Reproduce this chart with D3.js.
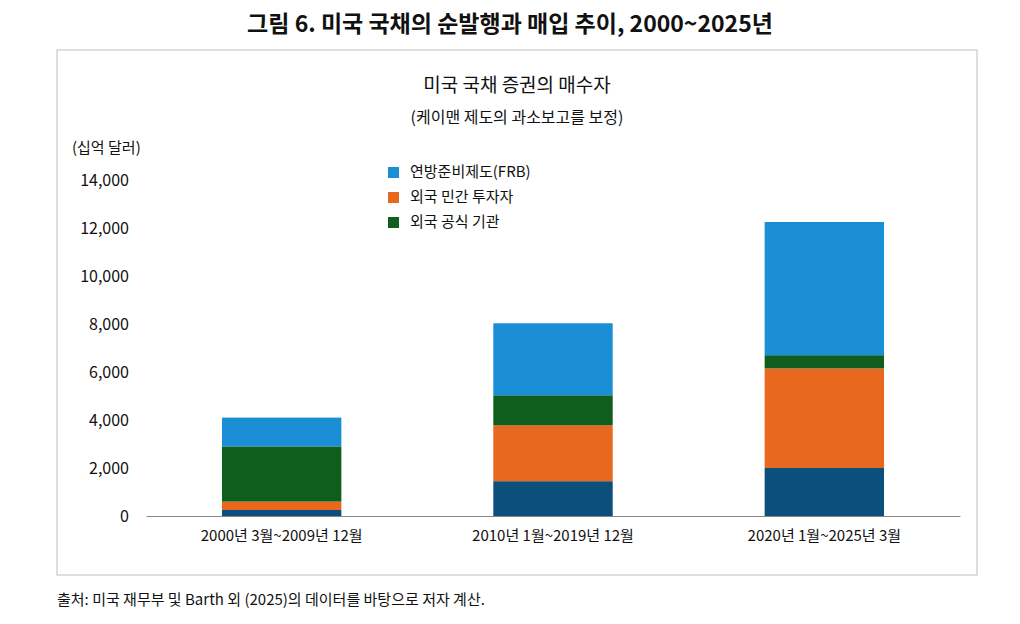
<!DOCTYPE html><html><head><meta charset="utf-8">
<script src="https://cdn.jsdelivr.net/npm/d3@7"></script>
<style>body{margin:0;background:#fff;font-family:"Noto Sans CJK KR","Noto Sans",sans-serif}</style></head><body>
<svg id="c" width="1020" height="624"></svg>
<script>
const categories=["2000년 3월~2009년 12월","2010년 1월~2019년 12월","2020년 1월~2025년 3월"];
const seriesNames=["기타","외국 민간 투자자","외국 공식 기관","연방준비제도(FRB)"];
const seriesColors=["#0b4f7c","#e8681f","#0f5e1e","#1a8fd6"];
const other=[250,1450,2000];
const privateForeign=[350,2330,4150];
const officialForeign=[2300,1250,550];
const frb=[1200,3000,5550];
const yTicks=[0,2000,4000,6000,8000,10000,12000,14000];
const legendOrder=[3,1,2];

const svg=d3.select("#c");
const font='"Noto Sans CJK KR","Noto Sans",sans-serif';
svg.append("text").attr("x",510).attr("y",32).attr("text-anchor","middle").attr("font-size",23).attr("font-weight","bold").attr("fill","#111").text("그림 6. 미국 국채의 순발행과 매입 추이, 2000~2025년");
svg.append("rect").attr("x",57).attr("y",50).attr("width",920).attr("height",525).attr("fill","none").attr("stroke","#bdbdbd");
svg.append("text").attr("x",517).attr("y",92).attr("text-anchor","middle").attr("font-size",19).attr("fill","#111").text("미국 국채 증권의 매수자");
svg.append("text").attr("x",517).attr("y",123).attr("text-anchor","middle").attr("font-size",16).attr("fill","#111").text("(케이맨 제도의 과소보고를 보정)");
svg.append("text").attr("x",72).attr("y",153).attr("font-size",15).attr("fill","#111").text("(십억 달러)");

const y=d3.scaleLinear().domain([0,14000]).range([516,180]);
const x=d3.scaleBand().domain(categories).range([146,1010-50]).paddingInner(0.56).paddingOuter(0.28);
const data=categories.map((c,i)=>({cat:c,s0:other[i],s1:privateForeign[i],s2:officialForeign[i],s3:frb[i]}));
const stack=d3.stack().keys(["s0","s1","s2","s3"])(data);
stack.forEach((layer,k)=>{
  svg.append("g").selectAll("rect").data(layer).join("rect")
   .attr("x",d=>x(d.data.cat)).attr("width",x.bandwidth())
   .attr("y",d=>y(d[1])).attr("height",d=>y(d[0])-y(d[1])).attr("fill",seriesColors[k]);
});
const ya=svg.append("g").attr("transform","translate(132,0)").call(d3.axisLeft(y).tickValues(yTicks).tickSize(0).tickFormat(d3.format(",")));
ya.select(".domain").remove();
ya.selectAll("text").attr("font-size",16).attr("font-family",font).attr("fill","#111");
const xa=svg.append("g").attr("transform","translate(0,516)").call(d3.axisBottom(x).tickSize(0).tickPadding(14));
xa.select(".domain").attr("stroke","#888");
xa.selectAll("text").attr("font-size",15).attr("font-family",font).attr("fill","#111");
legendOrder.forEach((k,i)=>{
  const g=svg.append("g").attr("transform",`translate(388,${167+i*25})`);
  g.append("rect").attr("width",11).attr("height",11).attr("fill",seriesColors[k]);
  g.append("text").attr("x",22).attr("y",10).attr("font-size",15).attr("fill","#111").text(seriesNames[k]);
});
svg.append("text").attr("x",57).attr("y",605).attr("font-size",15).attr("fill","#111").text("출처: 미국 재무부 및 Barth 외 (2025)의 데이터를 바탕으로 저자 계산.");
</script></body></html>
